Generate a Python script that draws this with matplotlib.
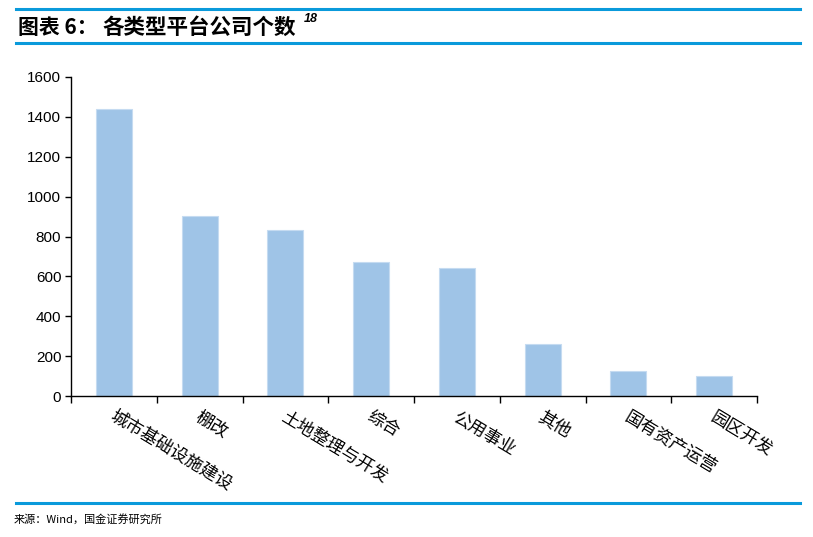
import numpy as np
import matplotlib.pyplot as plt
import matplotlib
from matplotlib.lines import Line2D

matplotlib.rcParams['font.family'] = ['Noto Sans CJK SC', 'DejaVu Sans']
matplotlib.rcParams['axes.unicode_minus'] = False

# Dados
categorias = ['城市基础设施建设', '棚改', '土地整理与开发', '综合',
              '公用事业', '其他', '国有资产运营', '园区开发']
valores = [1440, 905, 835, 672, 643, 263, 123, 98]
yticks = [0, 200, 400, 600, 800, 1000, 1200, 1400, 1600]

W, H = 813, 537
fig = plt.figure(figsize=(W / 100, H / 100), dpi=100)

# Linhas azuis do cabeçalho e rodapé
azul = '#0A9ADB'
for yp in [8.5, 42.5, 503]:
    fig.add_artist(Line2D([16 / W, 800 / W], [1 - yp / H, 1 - yp / H],
                          color=azul, linewidth=2.2, transform=fig.transFigure))

fig.text(18 / W, 1 - 27 / H, '图表 6：', fontsize=15,
         fontweight='bold', va='center', ha='left')
fig.text(102 / W, 1 - 27 / H, '各类型平台公司个数', fontsize=15.5,
         fontweight='bold', va='center', ha='left')
fig.text(304 / W, 1 - 19 / H, '18', fontsize=9, fontweight='bold',
         style='italic', va='center', ha='left', family='Liberation Sans')
fig.text(14 / W, 1 - 519 / H, '来源：Wind，国金证券研究所', fontsize=8,
         va='center', ha='left')

# Eixo principal
ax = fig.add_axes([71 / W, 1 - 396 / H, (757 - 71) / W, (396 - 77) / H])
x = np.arange(len(categorias))
ax.bar(x, valores, width=0.42, color='#9FC4E7', edgecolor='#C5DBF1', linewidth=0.8)

ax.set_xlim(-0.5, len(categorias) - 0.5)
ax.set_ylim(0, 1600)
ax.set_yticks(yticks)
ax.set_yticklabels([str(v) for v in yticks], family='Liberation Sans', fontsize=11)

ax.set_xticks(np.arange(len(categorias) + 1) - 0.5)
ax.set_xticklabels([])
ax.tick_params(axis='x', direction='out', length=5, width=1)
ax.tick_params(axis='y', direction='out', length=4, width=1, pad=3)

for xi, lab in zip(x, categorias):
    ax.text(xi - 0.03, -95, lab, rotation=-31, rotation_mode='anchor',
            ha='left', va='center', fontsize=12.5)

for s in ['top', 'right']:
    ax.spines[s].set_visible(False)
ax.spines['left'].set_linewidth(1)
ax.spines['bottom'].set_linewidth(1)

plt.savefig('out.png', dpi=100)
